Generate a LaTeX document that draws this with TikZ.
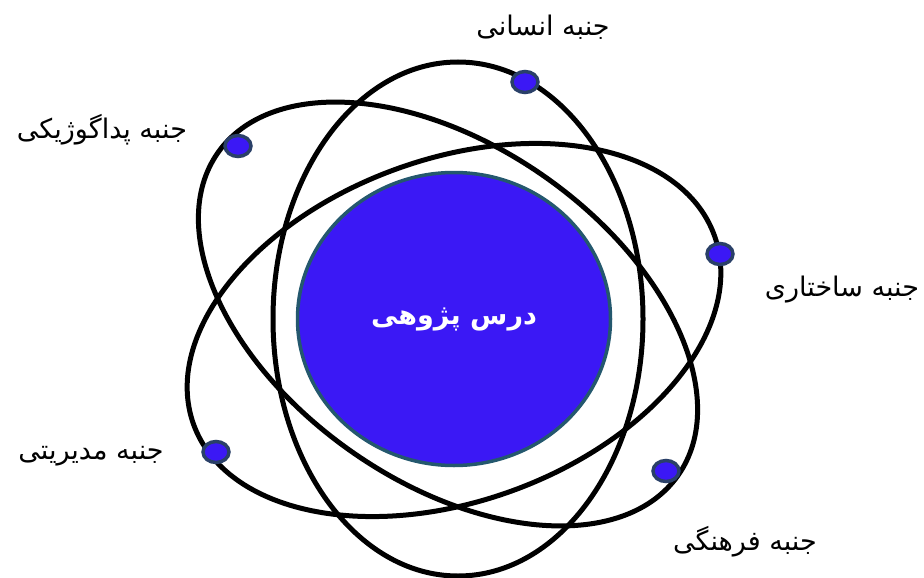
\documentclass[tikz,border=0pt]{standalone}
\usepackage{fontspec}
\usetikzlibrary{shapes.geometric}
\TeXXeTstate=1
\newfontfamily\arabicfont[Script=Arabic]{DejaVu Sans}
\definecolor{coreblue}{RGB}{59,24,245}
\definecolor{coreedge}{RGB}{36,88,110}
\definecolor{dotedge}{RGB}{42,64,104}
\tikzset{
  orbit/.style={ellipse, draw=black, line width=5pt, inner sep=0pt, fill=none},
  core/.style={ellipse, draw=coreedge, line width=3.5pt, fill=coreblue, inner sep=0pt,
    minimum width=313pt, minimum height=293pt, text=white,
    font=\arabicfont\bfseries\fontsize{27}{31}\selectfont},
  electron/.style={ellipse, draw=dotedge, line width=3.5pt, fill=coreblue, inner sep=0pt,
    minimum width=26pt, minimum height=21pt},
  aspect/.style={font=\arabicfont\fontsize{27}{31}\selectfont, text=black, inner sep=0pt}
}
\begin{document}
\begin{tikzpicture}[x=1pt,y=-1pt]
\useasboundingbox (0,0) rectangle (924,578);
% orbits
\node[orbit, minimum width=370pt, minimum height=514pt] (orbA) at (458,319) {};
\node[orbit, minimum width=562pt, minimum height=336pt, rotate=-35] (orbB) at (448,314) {};
\node[orbit, minimum width=554pt, minimum height=342pt, rotate=20] (orbC) at (454,330) {};
% core
\node[core] (core) at (454,319) {\beginR درس پژوهی\endR};
% electrons
\node[electron] (eHum) at (525,82) {};
\node[electron] (ePed) at (238,146) {};
\node[electron] (eStr) at (720,254) {};
\node[electron] (eMan) at (216,452) {};
\node[electron] (eCul) at (666,471) {};
% labels
\node[aspect] (lHum) at (543,27) {\beginR جنبه انسانی\endR};
\node[aspect] (lPed) at (102,130) {\beginR جنبه پداگوژیکی\endR};
\node[aspect] (lStr) at (842,290) {\beginR جنبه ساختاری\endR};
\node[aspect] (lMan) at (91,456) {\beginR جنبه مدیریتی\endR};
\node[aspect] (lCul) at (745,542) {\beginR جنبه فرهنگی\endR};
\end{tikzpicture}
\end{document}
